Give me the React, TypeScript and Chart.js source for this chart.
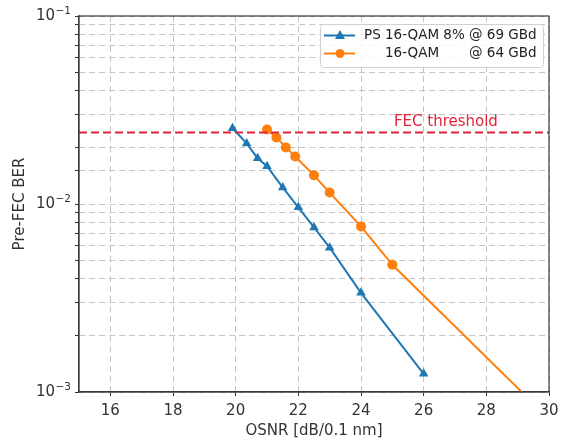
import React, { useEffect, useRef } from "react";
import { Chart, registerables } from "chart.js";

Chart.register(...registerables);

// ---- data ----
const psOsnr = [19.9, 20.35, 20.7, 21, 21.5, 22, 22.5, 23, 24, 26];
const psBer = [0.0253, 0.021, 0.0175, 0.0159, 0.01225, 0.0096, 0.0075, 0.00586, 0.00337, 0.00125];
const qamOsnr = [21, 21.3, 21.6, 21.9, 22.5, 23, 24, 25, 30];
const qamBer = [0.0249, 0.0226, 0.02, 0.0179, 0.0142, 0.0115, 0.0076, 0.00475, 0.00072];
const fecOsnr = [15, 30];
const fecBer = [0.024, 0.024];
const xTicks = [16, 18, 20, 22, 24, 26, 28, 30];
const yMajorExps = [-3, -2, -1];
const legendLabels = ["PS 16-QAM 8% @ 69 GBd", "16-QAM      @ 64 GBd"];
const fecLabel = "FEC threshold";
const xTitle = "OSNR [dB/0.1 nm]";
const yTitle = "Pre-FEC BER";

const BLUE = "#1f77b4";
const ORANGE = "#ff7f0e";
const RED = "#e2243a";
const FONT = "'DejaVu Sans', sans-serif";

const overlayPlugin = {
  id: "overlay",
  afterDatasetsDraw(chart: any) {
    const { ctx, chartArea: ca, scales } = chart;
    ctx.save();
    // frame
    ctx.strokeStyle = "#3a3a3a";
    ctx.lineWidth = 1.2;
    ctx.strokeRect(ca.left, ca.top, ca.right - ca.left, ca.bottom - ca.top);
    // y tick labels: 10^n
    ctx.fillStyle = "#333";
    ctx.textBaseline = "middle";
    for (const e of yMajorExps) {
      const y = scales.y.getPixelForValue(Math.pow(10, e));
      const expText = (e < 0 ? "\u2212" : "") + String(Math.abs(e));
      ctx.font = `10.5px ${FONT}`;
      const ew = ctx.measureText(expText).width;
      const right = ca.left - 8;
      ctx.textAlign = "right";
      ctx.fillText(expText, right, y - 5);
      ctx.font = `15px ${FONT}`;
      ctx.fillText("10", right - ew - 0.5, y + 0.5);
    }
    // FEC label
    ctx.fillStyle = RED;
    ctx.font = `15px ${FONT}`;
    ctx.textBaseline = "middle";
    ctx.textAlign = "left";
    ctx.fillText(fecLabel, scales.x.getPixelForValue(25.05), scales.y.getPixelForValue(fecBer[0]) - 10);
    // legend
    const bx = ca.right - 229, by = ca.top + 8, bw = 223, bh = 43;
    ctx.fillStyle = "rgba(255,255,255,0.85)";
    ctx.strokeStyle = "#d0d0d0";
    ctx.lineWidth = 1;
    ctx.beginPath();
    (ctx as any).roundRect(bx + 0.5, by + 0.5, bw, bh, 3);
    ctx.fill();
    ctx.stroke();
    ctx.font = `13.5px ${FONT}`;
    ctx.fillStyle = "#222";
    const colors = [BLUE, ORANGE];
    const rows = [by + 11.5, by + 29.5];
    const textX = bx + 44;
    for (let i = 0; i < 2; i++) {
      const y = rows[i];
      ctx.strokeStyle = colors[i];
      ctx.lineWidth = 2;
      ctx.beginPath();
      ctx.moveTo(bx + 4, y);
      ctx.lineTo(bx + 35, y);
      ctx.stroke();
      ctx.fillStyle = colors[i];
      const cx = bx + 20;
      ctx.beginPath();
      if (i === 0) {
        ctx.moveTo(cx, y - 5.5);
        ctx.lineTo(cx + 5, y + 3.5);
        ctx.lineTo(cx - 5, y + 3.5);
        ctx.closePath();
      } else {
        ctx.arc(cx, y, 4.5, 0, Math.PI * 2);
      }
      ctx.fill();
      ctx.fillStyle = "#222";
    }
    ctx.fillText(legendLabels[0], textX, rows[0]);
    const parts = legendLabels[1].split(/\s{2,}/);
    const off1 = ctx.measureText("PS ").width;
    const atIdx = legendLabels[0].indexOf("@");
    const off2 = ctx.measureText(legendLabels[0].slice(0, atIdx)).width;
    ctx.fillText(parts[0], textX + off1, rows[1]);
    ctx.fillText(parts[1], textX + off2, rows[1]);
    ctx.restore();
  },
};

export default function App() {
  const ref = useRef<HTMLCanvasElement>(null);
  useEffect(() => {
    const chart = new Chart(ref.current!, {
      type: "line",
      data: {
        datasets: [
          {
            label: "FEC",
            data: fecOsnr.map((x, i) => ({ x, y: fecBer[i] })),
            borderColor: RED,
            borderWidth: 2,
            borderDash: [8, 4],
            pointRadius: 0,
            clip: 0,
          } as any,
          {
            label: legendLabels[0],
            data: psOsnr.map((x, i) => ({ x, y: psBer[i] })),
            borderColor: BLUE,
            backgroundColor: BLUE,
            borderWidth: 2,
            pointStyle: "triangle",
            pointRadius: 5.5,
            pointBorderWidth: 0,
            clip: 0,
          },
          {
            label: legendLabels[1],
            data: qamOsnr.map((x, i) => ({ x, y: qamBer[i] })),
            borderColor: ORANGE,
            backgroundColor: ORANGE,
            borderWidth: 2,
            pointStyle: "circle",
            pointRadius: 5,
            pointBorderWidth: 0,
            clip: 0,
          },
        ],
      },
      options: {
        animation: false,
        responsive: false,
        layout: { padding: { top: 16, right: 13, left: 0, bottom: 0 } },
        plugins: { legend: { display: false }, tooltip: { enabled: false } },
        scales: {
          x: {
            type: "linear",
            min: 15,
            max: 30,
            afterBuildTicks: (s: any) => {
              s.ticks = xTicks.map((v) => ({ value: v }));
            },
            afterFit: (s: any) => {
              s.height = 51;
              s.paddingLeft = 0;
              s.paddingRight = 0;
            },
            ticks: { color: "#333", font: { family: FONT, size: 15 }, padding: 6, maxRotation: 0, autoSkip: false },
            grid: {
              color: "#c4c4c4",
              lineWidth: 1,
              tickLength: 4,
              tickColor: "#333",
              tickBorderDash: [],
            } as any,
            border: { color: "#3a3a3a", width: 1.2, dash: [6, 4] } as any,
            title: { display: true, text: xTitle, color: "#333", font: { family: FONT, size: 15 }, padding: { top: 0, bottom: 3 } },
          },
          y: {
            type: "logarithmic",
            min: 0.001,
            max: 0.1,
            afterFit: (s: any) => {
              s.width = 79;
              s.paddingTop = 0;
              s.paddingBottom = 0;
            },
            ticks: {
              color: "#333",
              font: { family: FONT, size: 15 },
              padding: 3,
              autoSkip: false,
              callback: () => "",
            },
            grid: {
              color: "#c4c4c4",
              lineWidth: 1,
              tickLength: 4,
              tickColor: "#333",
              tickBorderDash: [],
            } as any,
            border: { color: "#3a3a3a", width: 1.2, dash: [6, 4] } as any,
            title: { display: true, text: yTitle, color: "#333", font: { family: FONT, size: 15 }, padding: { top: 11, bottom: 0 } },
          },
        },
      },
      plugins: [overlayPlugin],
    } as any);
    return () => chart.destroy();
  }, []);
  return (
    <div style={{ position: "absolute", left: 0, top: 0, width: 562, height: 443, background: "#fff" }}>
      <canvas ref={ref} width={562} height={443} style={{ display: "block" }} />
    </div>
  );
}
